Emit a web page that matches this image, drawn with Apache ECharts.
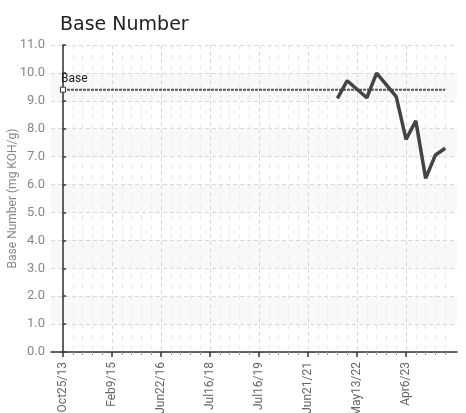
<!DOCTYPE html>
<html><head><meta charset="utf-8">
<script src="https://cdn.jsdelivr.net/npm/echarts@6/dist/echarts.min.js"></script>
<style>html,body{margin:0;padding:0;background:#fff}#c{width:466px;height:413px}</style>
</head><body><div id="c"></div>
<script>
const tickIndex = [0, 5, 10, 15, 20, 25, 30, 35];
const tickLabels = ['Oct25/13', 'Feb9/15', 'Jun22/16', 'Jul16/18', 'Jul16/19', 'Jun21/21', 'May13/22', 'Apr6/23'];
const sampleIndex = [28, 29, 31, 32, 34, 35, 36, 37, 38, 39];
const baseNumber = [9.09, 9.72, 9.11, 9.99, 9.15, 7.62, 8.28, 6.22, 7.06, 7.30];
const baseStart = 0, baseEnd = 39, baseValue = 9.4;

const minorIdx = [];
for (let i = 0; i <= 39; i++) if (i % 5 !== 0) minorIdx.push(i);

const chart = echarts.init(document.getElementById('c'));
const narrow = "'Liberation Sans Narrow', 'Roboto', sans-serif";
chart.setOption({
  animation: false,
  title: { text: 'Base Number', left: 55, top: 11, textStyle: { fontFamily: "'DejaVu Sans', sans-serif", fontSize: 19, fontWeight: 'normal', color: '#222' } },
  grid: { left: 51, top: 45, right: 9, bottom: 61, outerBoundsMode: 'none', containLabel: false },
  xAxis: [
    {
      type: 'value', min: -1.22, max: 40.2,
      axisLine: { show: true, onZero: false, lineStyle: { color: '#333', width: 1.5 } },
      axisTick: { show: true, customValues: tickIndex, length: 5, inside: false, lineStyle: { color: '#333', width: 1.5 } },
      axisLabel: { customValues: tickIndex, rotate: 90, margin: 10, color: '#666', fontFamily: narrow, fontSize: 12,
        formatter: v => { const k = tickIndex.indexOf(Math.round(v)); return k >= 0 ? tickLabels[k] : ''; } },
      splitLine: { show: true, lineStyle: { color: '#d8d8d8', type: [4, 3], width: 1 } }
    },
    {
      type: 'value', min: -1.22, max: 40.2, position: 'bottom',
      axisLine: { show: false },
      axisTick: { show: true, customValues: minorIdx, length: 3, lineStyle: { color: '#999', width: 1 } },
      axisLabel: { show: false },
      splitLine: { show: true, lineStyle: { color: '#e8e8e8', type: [4, 6], width: 1 } }
    }
  ],
  yAxis: {
    type: 'value', min: 0, max: 11, interval: 1,
    name: 'Base Number (mg KOH/g)', nameLocation: 'middle', nameGap: 32, nameMoveOverlap: false,
    nameTextStyle: { color: '#888', fontFamily: narrow, fontSize: 12 },
    axisLine: { show: true, lineStyle: { color: '#333', width: 1.5 } },
    axisTick: { show: true, inside: true, length: 3, lineStyle: { color: '#333', width: 1.5 } },
    axisLabel: { color: '#888', fontFamily: narrow, fontSize: 13, margin: 6, formatter: v => v.toFixed(1) },
    splitLine: { show: true, lineStyle: { color: '#d8d8d8', type: [4, 3], width: 1 } },
    splitArea: { show: true, areaStyle: { color: ['rgba(255,255,255,0)', '#f8f8f8'] } }
  },
  series: [
    {
      type: 'line', xAxisIndex: 0, z: 3,
      data: [
        { value: [baseStart, baseValue], symbol: 'rect', symbolSize: 5,
          label: { show: true, position: [1, -14], formatter: 'Base', color: '#222', fontFamily: narrow, fontSize: 12 } },
        { value: [baseEnd, baseValue], symbol: 'none' }
      ],
      showAllSymbol: true,
      itemStyle: { color: '#fff', borderColor: '#333', borderWidth: 1 },
      lineStyle: { color: '#555', width: 2, type: [3, 1] }
    },
    {
      type: 'line', xAxisIndex: 0, z: 4,
      data: sampleIndex.map((x, i) => [x, baseNumber[i]]),
      symbol: 'none',
      lineStyle: { color: '#444', width: 3.5 }
    }
  ]
});
</script></body></html>
